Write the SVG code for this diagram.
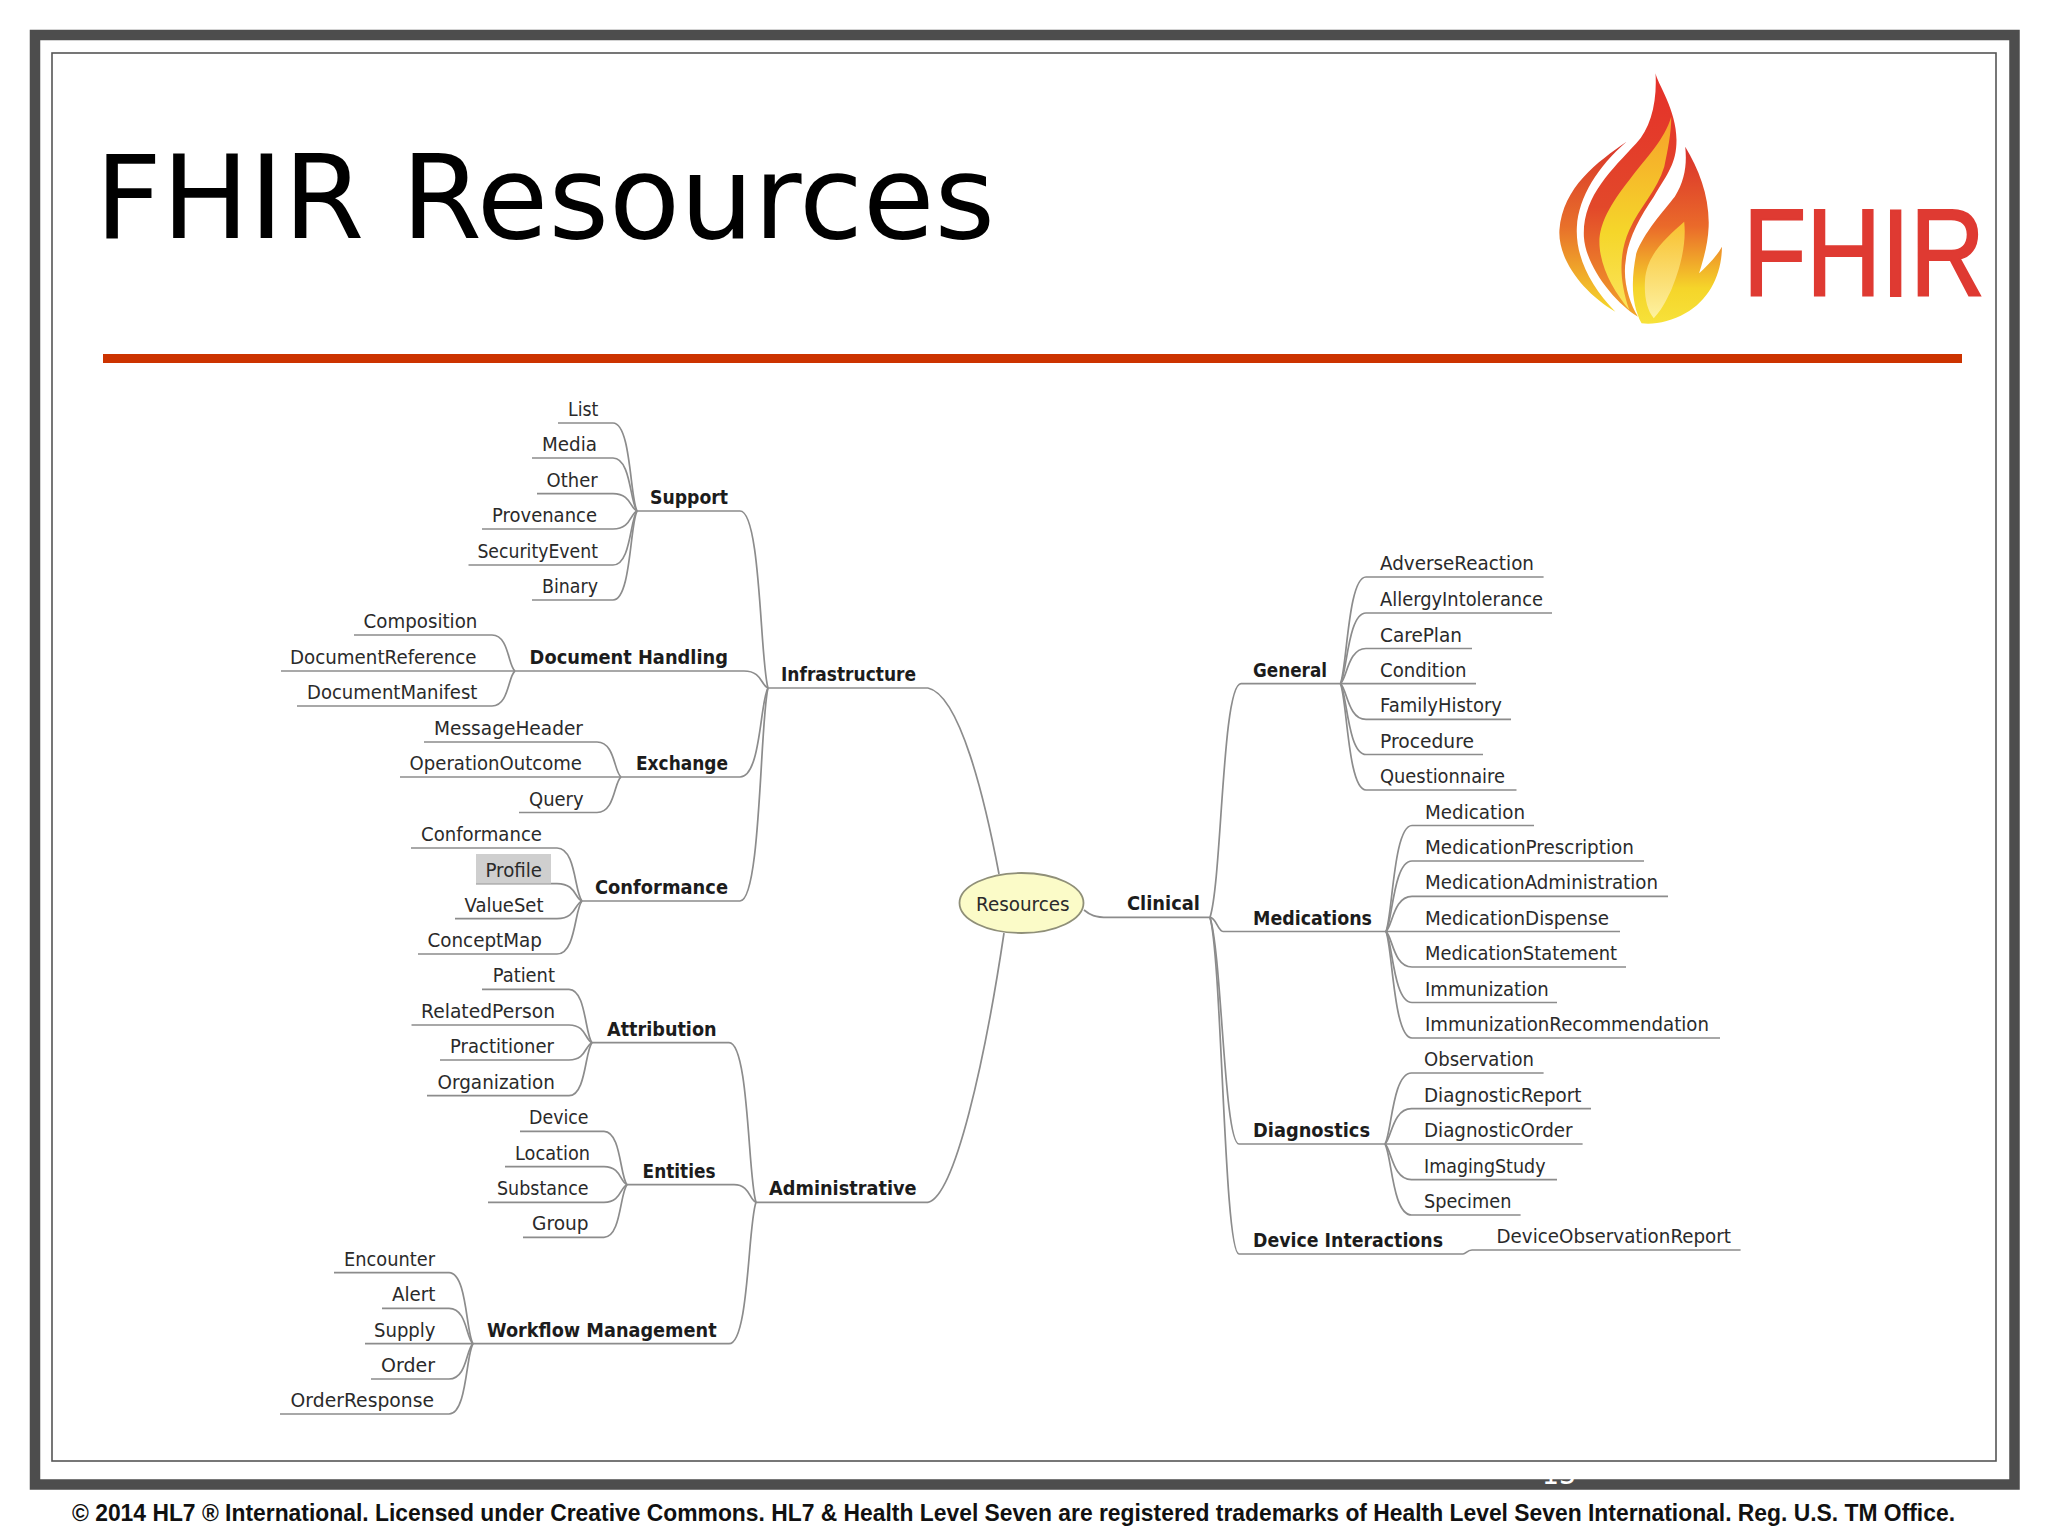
<svg xmlns="http://www.w3.org/2000/svg" width="2048" height="1536" viewBox="0 0 2048 1536">
<defs>
<style>
.t{font-family:"DejaVu Sans","Liberation Sans",sans-serif;font-size:19px;fill:#2a2a2a}
.b{font-family:"DejaVu Sans","Liberation Sans",sans-serif;font-size:19px;font-weight:bold;fill:#1c1c1c}
.c path{fill:none;stroke:#8c8c8c;stroke-width:1.7}
</style>
<linearGradient id="g1" x1="0" y1="0" x2="0" y2="1"><stop offset="0" stop-color="#d8342c"/><stop offset=".5" stop-color="#e8702a"/><stop offset="1" stop-color="#f6d92a"/></linearGradient>
<linearGradient id="g2" x1="0" y1="0" x2="0" y2="1"><stop offset="0" stop-color="#e5302a"/><stop offset=".55" stop-color="#e2482a"/><stop offset="1" stop-color="#f2a52a"/></linearGradient>
<linearGradient id="g3" x1="0" y1="0" x2="0" y2="1"><stop offset="0" stop-color="#f6a12a"/><stop offset=".6" stop-color="#f5d62a"/><stop offset="1" stop-color="#fbe45a"/></linearGradient>
<linearGradient id="g4" x1="0" y1="0" x2="0" y2="1"><stop offset="0" stop-color="#d9302c"/><stop offset=".45" stop-color="#ea6a2a"/><stop offset=".8" stop-color="#f5d52a"/><stop offset="1" stop-color="#f7e23a"/></linearGradient>
<linearGradient id="g5" x1="0" y1="0" x2="0" y2="1"><stop offset="0" stop-color="#f8c02e"/><stop offset="1" stop-color="#fdf2a0"/></linearGradient>
</defs>
<rect width="2048" height="1536" fill="#fff"/>
<rect x="35" y="35" width="1979.5" height="1449.5" fill="#fff" stroke="#4d4d4d" stroke-width="10.5"/>
<rect x="52" y="53" width="1944" height="1408" fill="none" stroke="#555" stroke-width="1.6"/>
<text x="95" y="238" textLength="900" lengthAdjust="spacingAndGlyphs" style="font-family:'DejaVu Sans',sans-serif;font-size:115px;fill:#000">FHIR Resources</text>
<rect x="103" y="354" width="1859" height="9" fill="#cc3300"/>
<g id="logo">
<g transform="translate(1500 40) scale(.3495 .3333)">
<path fill="url(#g1)" d="M362 305C280 365 180 440 170 570C165 660 240 760 330 815C260 740 215 650 220 560C225 470 280 380 362 305Z"/>
<path fill="url(#g2)" d="M445 100C450 130 505 210 505 300C505 370 480 400 440 470C400 530 365 600 360 660C350 720 370 790 395 830C330 790 245 680 240 590C235 470 320 390 390 310C430 265 450 190 445 100Z"/>
<path fill="url(#g3)" d="M490 230C470 300 420 350 370 420C310 500 280 560 285 620C290 690 330 760 370 810C340 720 340 640 370 570C400 500 450 450 470 380C480 330 490 280 490 230Z"/>
<path fill="url(#g4)" d="M530 320C570 390 600 470 597 560C595 620 575 680 570 700C590 680 620 650 635 620C635 700 600 780 530 820C490 845 440 855 405 850C375 790 375 720 390 640C410 580 470 510 500 470C530 420 535 370 530 320Z"/>
<path fill="url(#g5)" d="M527 545C480 590 420 640 415 720C412 770 420 810 440 835C470 800 480 770 490 750C510 700 535 620 527 545Z"/>
</g>
<text x="1743" y="296" textLength="242" lengthAdjust="spacingAndGlyphs" style="font-family:'Liberation Sans',sans-serif;font-size:125px;fill:#df3a32;stroke:#df3a32;stroke-width:2">FHIR</text>
</g>
<g id="connectors" class="c">
<path d="M928 688C960 695 985 800 999 874"/>
<path d="M928 1202.3C955 1196 985 1060 1004 933"/>
<path d="M1084 910C1090 915 1095 917.4 1108 917.4H1210"/>
<path d="M637 511H740C761 511 760 661 768 688"/>
<path d="M515 671H744C762 671 761 685.5 768 688"/>
<path d="M621 777H740C761 777 760 701 768 688"/>
<path d="M582 901H740C761 901 760 720 768 688"/>
<path d="M768 688H928"/>
<path d="M592 1042.7H729C749 1042.7 748 1178.4 756 1202.3"/>
<path d="M627 1184.7H734C750 1184.7 749 1199.7 756 1202.3"/>
<path d="M473 1343.7H729C749 1343.7 748 1223.5 756 1202.3"/>
<path d="M756 1202.3H928"/>
<path d="M558 423H613C631 423 630 498 637 511"/>
<path d="M532 458H613C631 458 630 503 637 511"/>
<path d="M537 493.6H613C631 493.6 630 508.4 637 511"/>
<path d="M482 529H613C631 529 630 513.7 637 511"/>
<path d="M468.5 565H613C631 565 630 519 637 511"/>
<path d="M532 600H613C631 600 630 524 637 511"/>
<path d="M354 635H492C509 635 508 666 515 671"/>
<path d="M281 671H515"/>
<path d="M297 706H492C509 706 508 676 515 671"/>
<path d="M424 742H597C615 742 614 772 621 777"/>
<path d="M400 777H621"/>
<path d="M519 812.5H597C615 812.5 614 782 621 777"/>
<path d="M411 848H557C576 848 574.5 893 582 901"/>
<path d="M476 883.6H557C576 883.6 574.5 898.4 582 901"/>
<path d="M455 918.6H557C576 918.6 574.5 903.6 582 901"/>
<path d="M418 954H557C576 954 574.5 909 582 901"/>
<path d="M482 989.3H569C586 989.3 585 1034.7 592 1042.7"/>
<path d="M411.5 1025H569C586 1025 585 1040 592 1042.7"/>
<path d="M440 1060H569C586 1060 585 1045.3 592 1042.7"/>
<path d="M427 1095.7H569C586 1095.7 585 1050.7 592 1042.7"/>
<path d="M520 1131.3H604C621 1131.3 620 1176.7 627 1184.7"/>
<path d="M505 1166.7H604C621 1166.7 620 1182 627 1184.7"/>
<path d="M488 1202.3H604C621 1202.3 620 1187.3 627 1184.7"/>
<path d="M523 1237.3H604C621 1237.3 620 1192.6 627 1184.7"/>
<path d="M334 1272.7H449C467 1272.7 466 1333 473 1343.7"/>
<path d="M382 1308.3H449C467 1308.3 466 1338.4 473 1343.7"/>
<path d="M365 1343.7H473"/>
<path d="M371 1379H449C467 1379 466 1349 473 1343.7"/>
<path d="M280 1414H449C467 1414 466 1354.3 473 1343.7"/>
<path d="M1340.5 683.6H1241C1222 683.6 1222 880 1210 917.4"/>
<path d="M1386 931.5H1223C1218 931.5 1216 917.4 1210 917.4"/>
<path d="M1385 1144H1239C1224 1144 1222 955 1210 917.4"/>
<path d="M1463 1254H1239C1224 1254 1222 960 1210 917.4"/>
<path d="M1463 1254C1466 1254 1467 1250 1472 1250H1740.6"/>
<path d="M1340.5 683.6C1347 667.6 1348 577 1366 577H1543.6"/>
<path d="M1340.5 683.6C1347 673 1348 613 1366 613H1552"/>
<path d="M1340.5 683.6C1347 678.3 1348 648.5 1366 648.5H1472"/>
<path d="M1340.5 683.6H1476"/>
<path d="M1340.5 683.6C1347 689 1348 719.4 1366 719.4H1511"/>
<path d="M1340.5 683.6C1347 694.2 1348 754.5 1366 754.5H1483"/>
<path d="M1340.5 683.6C1347 699.6 1348 790 1366 790H1516.5"/>
<path d="M1386 931.5C1392.5 915.6 1393.5 825.5 1412 825.5H1534"/>
<path d="M1386 931.5C1392.5 921 1393.5 861 1412 861H1644"/>
<path d="M1386 931.5C1392.5 926.2 1393.5 896.4 1412 896.4H1668"/>
<path d="M1386 931.5H1620"/>
<path d="M1386 931.5C1392.5 936.8 1393.5 967 1412 967H1626"/>
<path d="M1386 931.5C1392.5 942 1393.5 1002.5 1412 1002.5H1557"/>
<path d="M1386 931.5C1392.5 947.5 1393.5 1038 1412 1038H1720"/>
<path d="M1385 1144C1391.5 1133.4 1392.5 1073 1411.5 1073H1543.6"/>
<path d="M1385 1144C1391.5 1138.7 1392.5 1108.7 1411.5 1108.7H1591"/>
<path d="M1385 1144H1582.6"/>
<path d="M1385 1144C1391.5 1149.4 1392.5 1179.7 1411.5 1179.7H1557"/>
<path d="M1385 1144C1391.5 1154.6 1392.5 1215 1411.5 1215H1520.6"/>
</g>
<g id="n-resources"><ellipse cx="1021.5" cy="903" rx="62" ry="30" fill="#fbfbc8" stroke="#8f8f78" stroke-width="1.8"/><text class="t" x="976" y="911" textLength="93.6" lengthAdjust="spacingAndGlyphs">Resources</text></g>
<g id="n-infrastructure"><text class="b" x="781" y="681" textLength="135" lengthAdjust="spacingAndGlyphs">Infrastructure</text></g>
<g id="n-administrative"><text class="b" x="769" y="1195.3" textLength="147.6" lengthAdjust="spacingAndGlyphs">Administrative</text></g>
<g id="n-clinical"><text class="b" x="1127" y="910" textLength="73" lengthAdjust="spacingAndGlyphs">Clinical</text></g>
<g id="n-support"><text class="b" x="650" y="504" textLength="78" lengthAdjust="spacingAndGlyphs">Support</text></g>
<g id="n-document-handling"><text class="b" x="529.6" y="664" textLength="198.4" lengthAdjust="spacingAndGlyphs">Document Handling</text></g>
<g id="n-exchange"><text class="b" x="636" y="770" textLength="92" lengthAdjust="spacingAndGlyphs">Exchange</text></g>
<g id="n-conformance-group"><text class="b" x="595" y="894" textLength="133" lengthAdjust="spacingAndGlyphs">Conformance</text></g>
<g id="n-attribution"><text class="b" x="607" y="1035.7" textLength="109.6" lengthAdjust="spacingAndGlyphs">Attribution</text></g>
<g id="n-entities"><text class="b" x="642.6" y="1177.7" textLength="73" lengthAdjust="spacingAndGlyphs">Entities</text></g>
<g id="n-workflow"><text class="b" x="487" y="1336.7" textLength="229.6" lengthAdjust="spacingAndGlyphs">Workflow Management</text></g>
<g id="n-general"><text class="b" x="1253" y="676.6" textLength="74" lengthAdjust="spacingAndGlyphs">General</text></g>
<g id="n-medications"><text class="b" x="1253" y="924.5" textLength="119" lengthAdjust="spacingAndGlyphs">Medications</text></g>
<g id="n-diagnostics"><text class="b" x="1253" y="1136.5" textLength="117" lengthAdjust="spacingAndGlyphs">Diagnostics</text></g>
<g id="n-device-interactions"><text class="b" x="1253" y="1247" textLength="190" lengthAdjust="spacingAndGlyphs">Device Interactions</text></g>
<g id="n-list"><text class="t" x="568" y="416" textLength="30.4" lengthAdjust="spacingAndGlyphs">List</text></g>
<g id="n-media"><text class="t" x="542" y="451" textLength="55" lengthAdjust="spacingAndGlyphs">Media</text></g>
<g id="n-other"><text class="t" x="546.6" y="486.6" textLength="51" lengthAdjust="spacingAndGlyphs">Other</text></g>
<g id="n-provenance"><text class="t" x="492" y="522" textLength="105" lengthAdjust="spacingAndGlyphs">Provenance</text></g>
<g id="n-securityevent"><text class="t" x="477.4" y="558" textLength="120.6" lengthAdjust="spacingAndGlyphs">SecurityEvent</text></g>
<g id="n-binary"><text class="t" x="542" y="593" textLength="56" lengthAdjust="spacingAndGlyphs">Binary</text></g>
<g id="n-composition"><text class="t" x="363.6" y="628" textLength="113.8" lengthAdjust="spacingAndGlyphs">Composition</text></g>
<g id="n-documentreference"><text class="t" x="290" y="664" textLength="186.5" lengthAdjust="spacingAndGlyphs">DocumentReference</text></g>
<g id="n-documentmanifest"><text class="t" x="307" y="699" textLength="170.4" lengthAdjust="spacingAndGlyphs">DocumentManifest</text></g>
<g id="n-messageheader"><text class="t" x="434" y="735" textLength="149" lengthAdjust="spacingAndGlyphs">MessageHeader</text></g>
<g id="n-operationoutcome"><text class="t" x="409.6" y="770" textLength="172.4" lengthAdjust="spacingAndGlyphs">OperationOutcome</text></g>
<g id="n-query"><text class="t" x="529" y="805.5" textLength="54.6" lengthAdjust="spacingAndGlyphs">Query</text></g>
<g id="n-conformance"><text class="t" x="421" y="841" textLength="121" lengthAdjust="spacingAndGlyphs">Conformance</text></g>
<g id="n-profile"><rect x="476" y="854" width="75" height="29.6" fill="#cfcfcf"/><text class="t" x="485.4" y="876.6" textLength="56.6" lengthAdjust="spacingAndGlyphs">Profile</text></g>
<g id="n-valueset"><text class="t" x="464.5" y="911.6" textLength="79" lengthAdjust="spacingAndGlyphs">ValueSet</text></g>
<g id="n-conceptmap"><text class="t" x="427.4" y="947" textLength="114.6" lengthAdjust="spacingAndGlyphs">ConceptMap</text></g>
<g id="n-patient"><text class="t" x="492.7" y="982.3" textLength="62.3" lengthAdjust="spacingAndGlyphs">Patient</text></g>
<g id="n-relatedperson"><text class="t" x="421" y="1018" textLength="134" lengthAdjust="spacingAndGlyphs">RelatedPerson</text></g>
<g id="n-practitioner"><text class="t" x="450" y="1053" textLength="104" lengthAdjust="spacingAndGlyphs">Practitioner</text></g>
<g id="n-organization"><text class="t" x="437.5" y="1088.7" textLength="117.5" lengthAdjust="spacingAndGlyphs">Organization</text></g>
<g id="n-device"><text class="t" x="529" y="1124.3" textLength="59.6" lengthAdjust="spacingAndGlyphs">Device</text></g>
<g id="n-location"><text class="t" x="515" y="1159.7" textLength="75" lengthAdjust="spacingAndGlyphs">Location</text></g>
<g id="n-substance"><text class="t" x="497" y="1195.3" textLength="91.6" lengthAdjust="spacingAndGlyphs">Substance</text></g>
<g id="n-group"><text class="t" x="532" y="1230.3" textLength="56.6" lengthAdjust="spacingAndGlyphs">Group</text></g>
<g id="n-encounter"><text class="t" x="344" y="1265.7" textLength="91" lengthAdjust="spacingAndGlyphs">Encounter</text></g>
<g id="n-alert"><text class="t" x="392" y="1301.3" textLength="43.5" lengthAdjust="spacingAndGlyphs">Alert</text></g>
<g id="n-supply"><text class="t" x="374" y="1336.7" textLength="61.5" lengthAdjust="spacingAndGlyphs">Supply</text></g>
<g id="n-order"><text class="t" x="381" y="1372" textLength="54" lengthAdjust="spacingAndGlyphs">Order</text></g>
<g id="n-orderresponse"><text class="t" x="290.6" y="1407" textLength="143.4" lengthAdjust="spacingAndGlyphs">OrderResponse</text></g>
<g id="n-adversereaction"><text class="t" x="1380" y="570" textLength="154" lengthAdjust="spacingAndGlyphs">AdverseReaction</text></g>
<g id="n-allergyintolerance"><text class="t" x="1380" y="606" textLength="163" lengthAdjust="spacingAndGlyphs">AllergyIntolerance</text></g>
<g id="n-careplan"><text class="t" x="1380" y="641.5" textLength="82" lengthAdjust="spacingAndGlyphs">CarePlan</text></g>
<g id="n-condition"><text class="t" x="1380" y="676.6" textLength="86.5" lengthAdjust="spacingAndGlyphs">Condition</text></g>
<g id="n-familyhistory"><text class="t" x="1380" y="712.4" textLength="122" lengthAdjust="spacingAndGlyphs">FamilyHistory</text></g>
<g id="n-procedure"><text class="t" x="1380" y="747.5" textLength="94" lengthAdjust="spacingAndGlyphs">Procedure</text></g>
<g id="n-questionnaire"><text class="t" x="1380" y="783" textLength="125" lengthAdjust="spacingAndGlyphs">Questionnaire</text></g>
<g id="n-medication"><text class="t" x="1425" y="818.5" textLength="100" lengthAdjust="spacingAndGlyphs">Medication</text></g>
<g id="n-medicationprescription"><text class="t" x="1425" y="854" textLength="209" lengthAdjust="spacingAndGlyphs">MedicationPrescription</text></g>
<g id="n-medicationadministration"><text class="t" x="1425" y="889.4" textLength="233" lengthAdjust="spacingAndGlyphs">MedicationAdministration</text></g>
<g id="n-medicationdispense"><text class="t" x="1425" y="924.5" textLength="184" lengthAdjust="spacingAndGlyphs">MedicationDispense</text></g>
<g id="n-medicationstatement"><text class="t" x="1425" y="960" textLength="192" lengthAdjust="spacingAndGlyphs">MedicationStatement</text></g>
<g id="n-immunization"><text class="t" x="1425" y="995.5" textLength="123.7" lengthAdjust="spacingAndGlyphs">Immunization</text></g>
<g id="n-immunizationrecommendation"><text class="t" x="1425" y="1031" textLength="284" lengthAdjust="spacingAndGlyphs">ImmunizationRecommendation</text></g>
<g id="n-observation"><text class="t" x="1424" y="1066" textLength="110" lengthAdjust="spacingAndGlyphs">Observation</text></g>
<g id="n-diagnosticreport"><text class="t" x="1424" y="1101.7" textLength="157.5" lengthAdjust="spacingAndGlyphs">DiagnosticReport</text></g>
<g id="n-diagnosticorder"><text class="t" x="1424" y="1137" textLength="148.6" lengthAdjust="spacingAndGlyphs">DiagnosticOrder</text></g>
<g id="n-imagingstudy"><text class="t" x="1424" y="1172.7" textLength="121.5" lengthAdjust="spacingAndGlyphs">ImagingStudy</text></g>
<g id="n-specimen"><text class="t" x="1424" y="1208" textLength="87.4" lengthAdjust="spacingAndGlyphs">Specimen</text></g>
<g id="n-deviceobservationreport"><text class="t" x="1496.5" y="1243" textLength="234.5" lengthAdjust="spacingAndGlyphs">DeviceObservationReport</text></g>
<text x="1542" y="1484" textLength="34" lengthAdjust="spacingAndGlyphs" style="font-family:'DejaVu Sans',sans-serif;font-size:30px;fill:#fff">13</text>
<text x="72" y="1521" textLength="1883" lengthAdjust="spacingAndGlyphs" style="font-family:'Liberation Sans',sans-serif;font-size:24px;font-weight:bold;fill:#111">© 2014 HL7 ® International. Licensed under Creative Commons. HL7 &amp; Health Level Seven are registered trademarks of Health Level Seven International. Reg. U.S. TM Office.</text>
</svg>
